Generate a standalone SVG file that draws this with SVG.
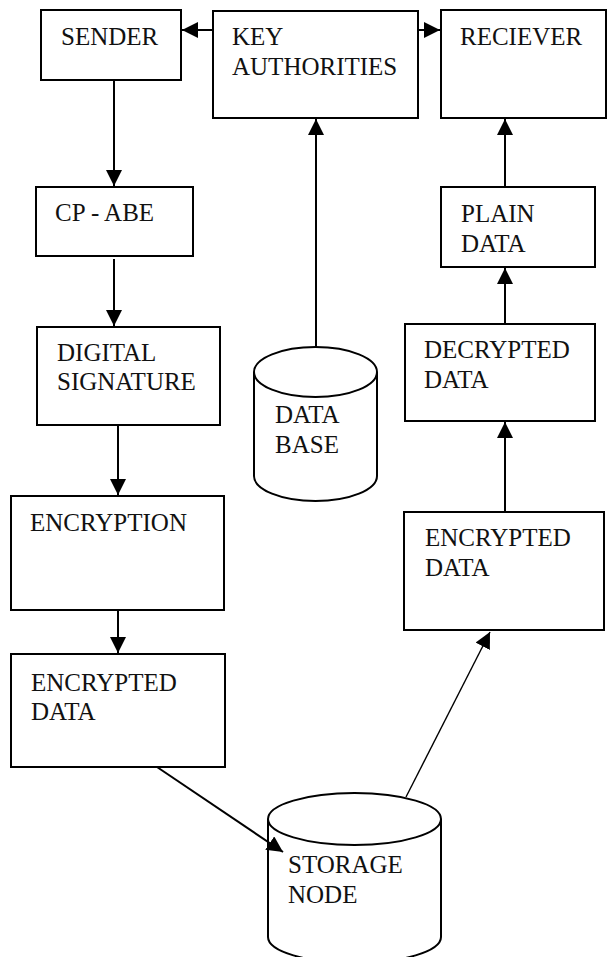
<svg xmlns="http://www.w3.org/2000/svg" width="607" height="957" viewBox="0 0 607 957">
<style>
.box{fill:#fff;stroke:#000;stroke-width:2}
.cyl{fill:#fff;stroke:#000;stroke-width:2}
.con{fill:none;stroke:#000;stroke-width:2;marker-end:url(#ah)}
.thin{stroke-width:1.4}
</style>
<defs>
<marker id="ah" markerUnits="userSpaceOnUse" markerWidth="16" markerHeight="16" viewBox="0 0 14 14" refX="14" refY="7" orient="auto">
<path d="M0,0 L14,7 L0,14 Z" fill="#000"/>
</marker>
</defs>
<rect width="607" height="957" fill="#fff"/>
<g font-family="'Liberation Serif', 'Times New Roman', serif" font-size="25" fill="#111">
<g id="sender"><rect class="box" x="41" y="10" width="140" height="70"/><text x="61" y="45">SENDER</text></g>
<g id="key-authorities"><rect class="box" x="213" y="11" width="205" height="107"/><text x="232" y="45">KEY</text><text x="232" y="75">AUTHORITIES</text></g>
<g id="reciever"><rect class="box" x="441" y="10" width="165" height="108"/><text x="460" y="45">RECIEVER</text></g>
<g id="cp-abe"><rect class="box" x="36" y="187" width="157" height="69"/><text x="55" y="221">CP - ABE</text></g>
<g id="digital-signature"><rect class="box" x="37" y="327" width="183" height="98"/><text x="57" y="361">DIGITAL</text><text x="57" y="390">SIGNATURE</text></g>
<g id="encryption"><rect class="box" x="11" y="496" width="213" height="114"/><text x="30" y="531">ENCRYPTION</text></g>
<g id="encrypted-data-left"><rect class="box" x="11" y="654" width="214" height="113"/><text x="31" y="691">ENCRYPTED</text><text x="31" y="720">DATA</text></g>
<g id="database"><path class="cyl" d="M254,372 L254,476 A61.5,25 0 0 0 377,476 L377,372"/><ellipse class="cyl" cx="315.5" cy="372" rx="61.5" ry="25"/><text x="275" y="423">DATA</text><text x="275" y="453">BASE</text></g>
<g id="storage-node"><path class="cyl" d="M268,819 L268,937 A86.5,26 0 0 0 441,937 L441,819"/><ellipse class="cyl" cx="354.5" cy="819" rx="86.5" ry="26"/><text x="288" y="873">STORAGE</text><text x="288" y="903">NODE</text></g>
<g id="encrypted-data-right"><rect class="box" x="404" y="512" width="200" height="118"/><text x="425" y="546">ENCRYPTED</text><text x="425" y="576">DATA</text></g>
<g id="decrypted-data"><rect class="box" x="405" y="324" width="190" height="97"/><text x="424" y="358">DECRYPTED</text><text x="424" y="388">DATA</text></g>
<g id="plain-data"><rect class="box" x="441" y="187" width="154" height="80"/><text x="461" y="222">PLAIN</text><text x="461" y="252">DATA</text></g>
</g>
<g id="connectors">
<line class="con" x1="213" y1="30" x2="182" y2="30"/>
<line class="con" x1="418" y1="30" x2="440" y2="30"/>
<line class="con" x1="114" y1="80" x2="114" y2="186"/>
<line class="con" x1="114" y1="259" x2="114" y2="326"/>
<line class="con" x1="118" y1="425" x2="118" y2="495"/>
<line class="con" x1="118" y1="610" x2="118" y2="653"/>
<line class="con" x1="157" y1="767" x2="283" y2="852"/>
<line class="con thin" x1="406" y1="797" x2="490" y2="632"/>
<line class="con" x1="505" y1="512" x2="505" y2="422"/>
<line class="con" x1="505" y1="324" x2="505" y2="268"/>
<line class="con" x1="505" y1="187" x2="505" y2="119"/>
<line class="con" x1="316" y1="347" x2="316" y2="119"/>
</g>
</svg>
